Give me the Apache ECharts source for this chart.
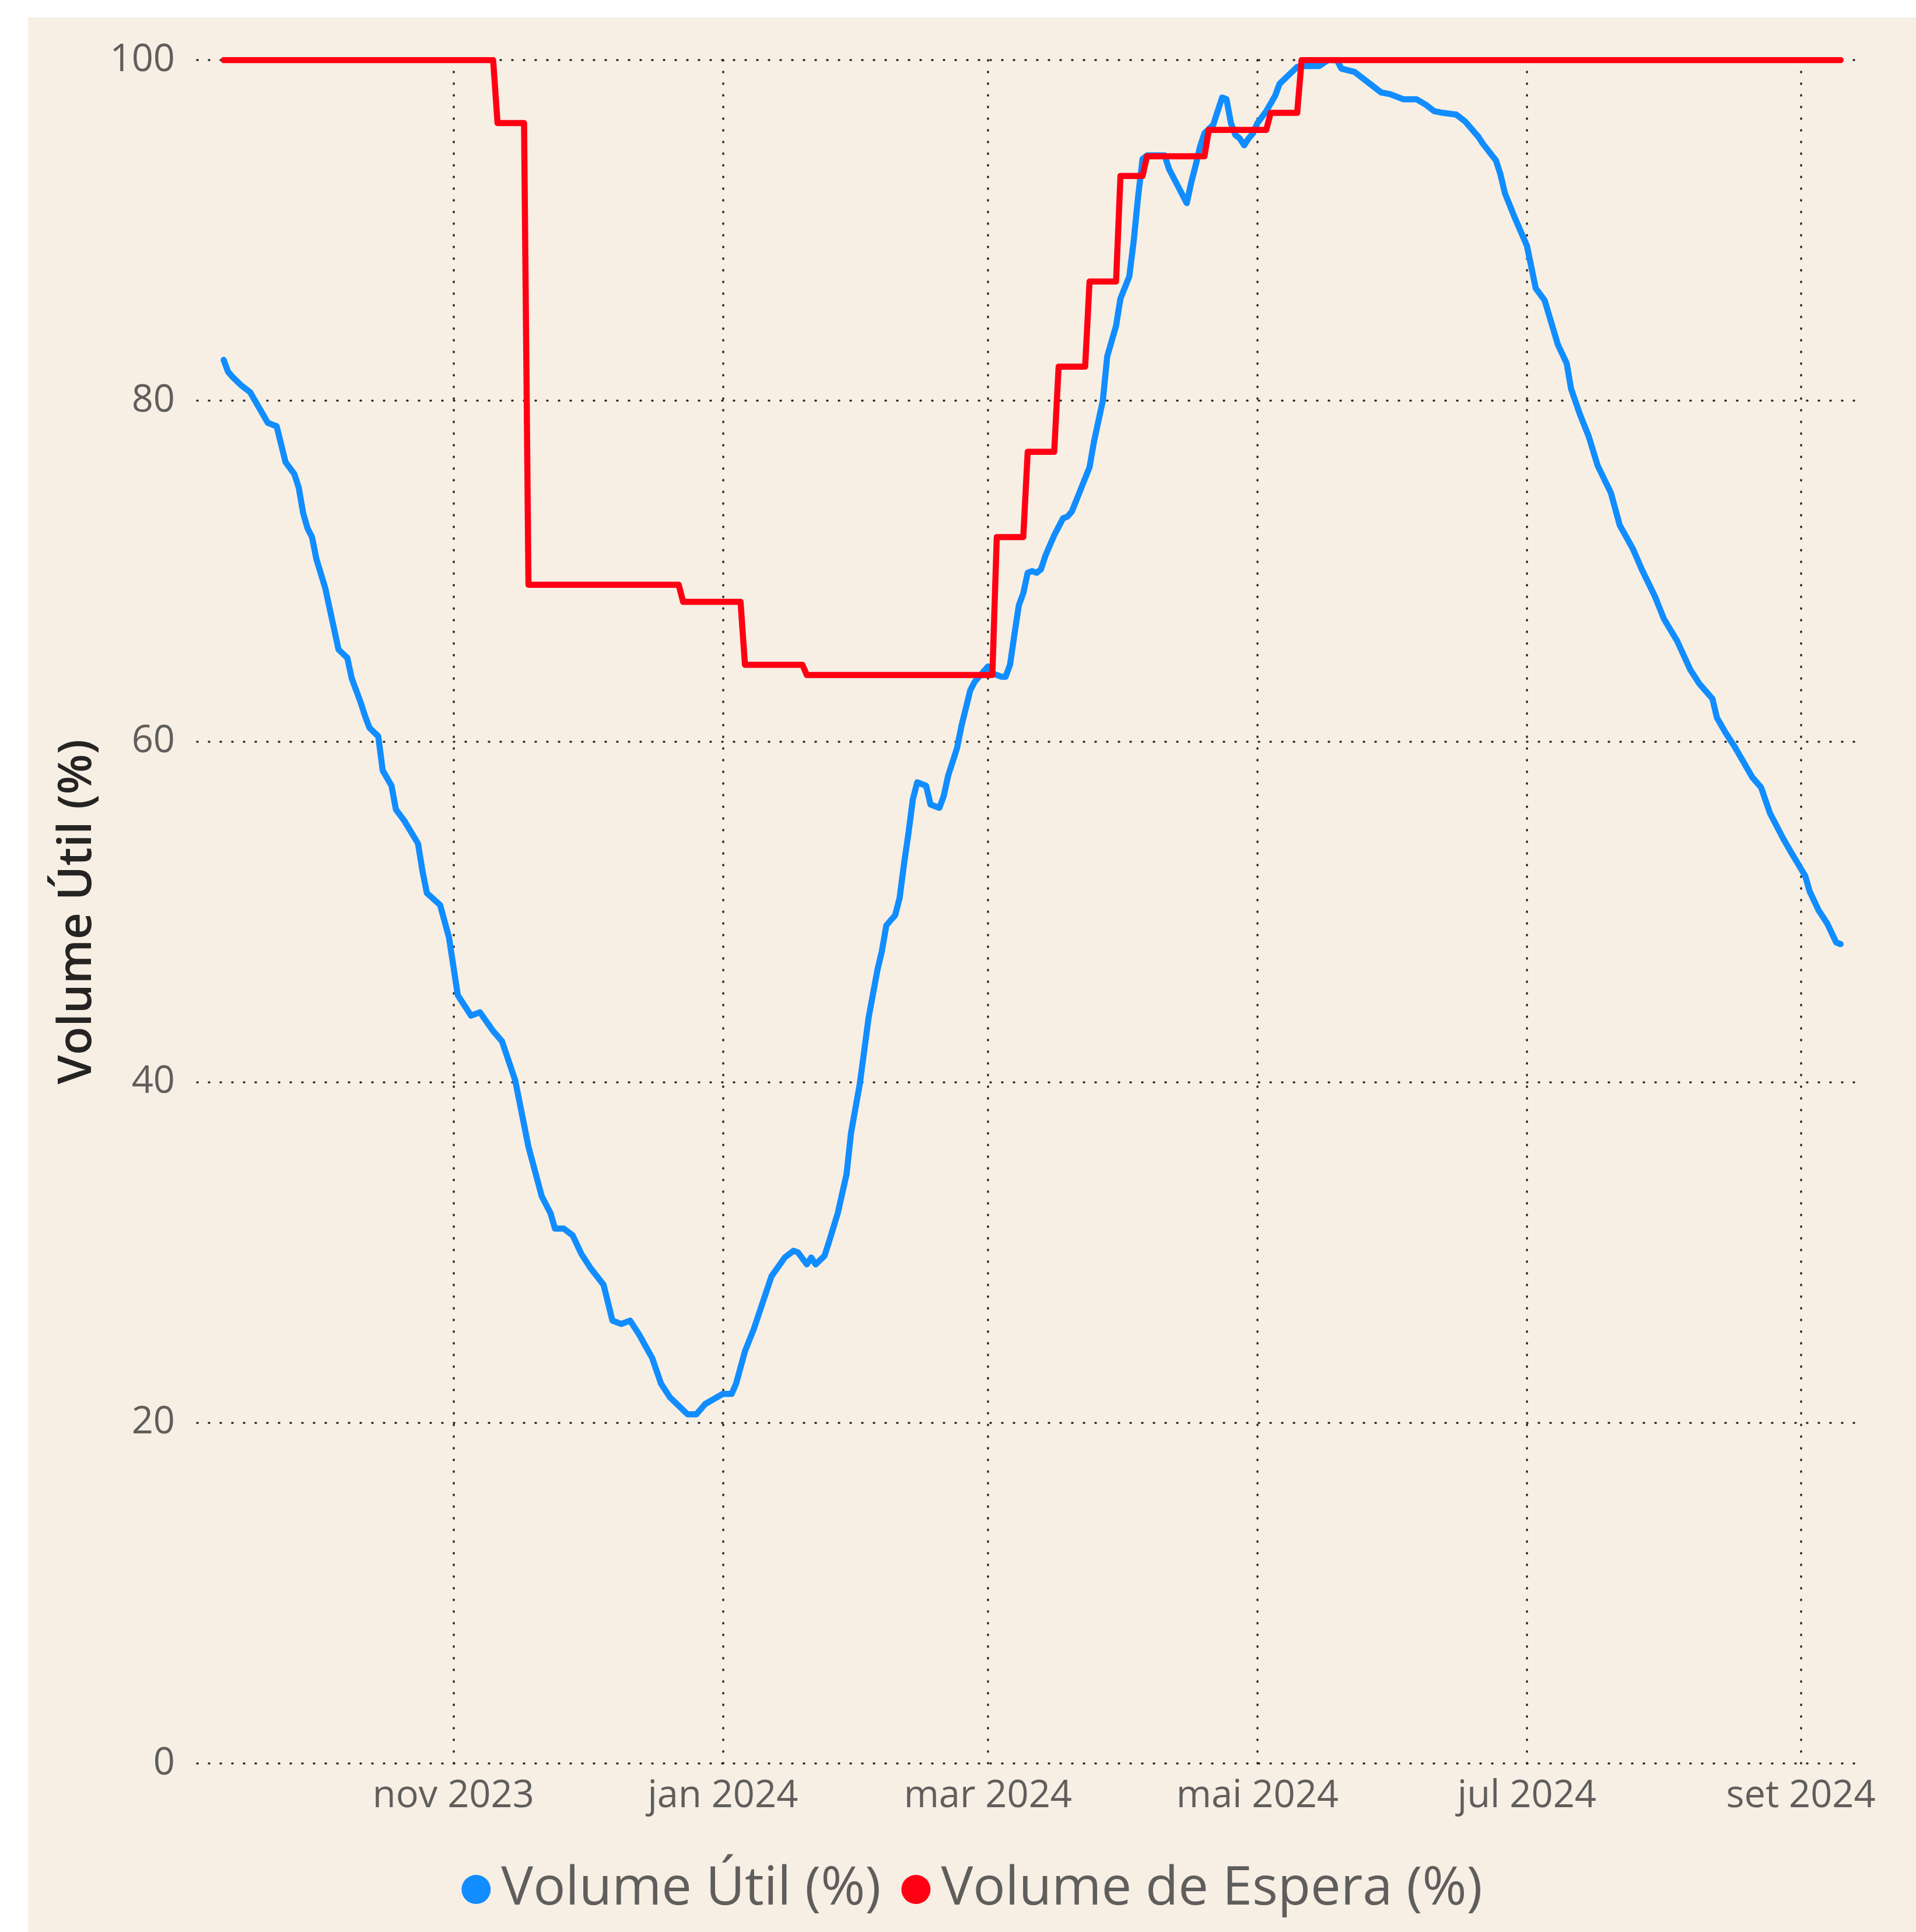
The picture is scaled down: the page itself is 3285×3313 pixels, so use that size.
<!DOCTYPE html>
<html>
<head>
<meta charset="utf-8">
<script src="https://cdn.jsdelivr.net/npm/echarts@6/dist/echarts.min.js"></script>
<style>
  html, body { margin: 0; padding: 0; background: #ffffff; }
  #chart { position: absolute; left: 48px; top: 30px; width: 3237px; height: 3283px; }
</style>
</head>
<body>
<div id="chart"></div>
<script>
// Volume Útil (%) - leitura diária aproximada
const utilDates = [
  '2023-09-10','2023-09-11','2023-09-12','2023-09-14','2023-09-16','2023-09-20','2023-09-22','2023-09-24',
  '2023-09-26','2023-09-27','2023-09-28','2023-09-29','2023-09-30','2023-10-01','2023-10-03','2023-10-05',
  '2023-10-06','2023-10-08','2023-10-09','2023-10-11','2023-10-12','2023-10-13','2023-10-15','2023-10-16',
  '2023-10-18','2023-10-19','2023-10-21','2023-10-24','2023-10-25','2023-10-26','2023-10-29','2023-10-31',
  '2023-11-02','2023-11-05','2023-11-07','2023-11-10','2023-11-12','2023-11-15','2023-11-18','2023-11-21',
  '2023-11-23','2023-11-24','2023-11-26','2023-11-28','2023-11-30','2023-12-02','2023-12-05','2023-12-07',
  '2023-12-09','2023-12-11','2023-12-13','2023-12-16','2023-12-18','2023-12-20','2023-12-24','2023-12-26',
  '2023-12-28','2024-01-01','2024-01-03','2024-01-04','2024-01-06','2024-01-08','2024-01-12','2024-01-15',
  '2024-01-17','2024-01-18','2024-01-20','2024-01-21','2024-01-22','2024-01-24','2024-01-25','2024-01-27',
  '2024-01-29','2024-01-30','2024-02-01','2024-02-03','2024-02-05','2024-02-06','2024-02-07','2024-02-09',
  '2024-02-10','2024-02-11','2024-02-12','2024-02-13','2024-02-14','2024-02-16','2024-02-17','2024-02-19',
  '2024-02-20','2024-02-21','2024-02-23','2024-02-24','2024-02-26','2024-02-27','2024-03-01','2024-03-02',
  '2024-03-04','2024-03-05','2024-03-06','2024-03-07','2024-03-08','2024-03-09','2024-03-10','2024-03-11',
  '2024-03-12','2024-03-13','2024-03-14','2024-03-16','2024-03-18','2024-03-19','2024-03-20','2024-03-22',
  '2024-03-24','2024-03-25','2024-03-27','2024-03-28','2024-03-30','2024-03-31','2024-04-02','2024-04-03',
  '2024-04-04','2024-04-05','2024-04-06','2024-04-10','2024-04-11','2024-04-13','2024-04-15','2024-04-16',
  '2024-04-17','2024-04-18','2024-04-19','2024-04-21','2024-04-22','2024-04-23','2024-04-24','2024-04-25',
  '2024-04-26','2024-04-27','2024-04-28','2024-04-29','2024-04-30','2024-05-01','2024-05-03','2024-05-05',
  '2024-05-06','2024-05-08','2024-05-10','2024-05-11','2024-05-15','2024-05-17','2024-05-19','2024-05-20',
  '2024-05-23','2024-05-26','2024-05-29','2024-05-31','2024-06-03','2024-06-06','2024-06-08','2024-06-10',
  '2024-06-12','2024-06-15','2024-06-17','2024-06-20','2024-06-21','2024-06-24','2024-06-25','2024-06-26',
  '2024-06-28','2024-07-01','2024-07-03','2024-07-05','2024-07-08','2024-07-10','2024-07-11','2024-07-13',
  '2024-07-15','2024-07-17','2024-07-20','2024-07-22','2024-07-25','2024-07-27','2024-07-30','2024-08-01',
  '2024-08-04','2024-08-07','2024-08-09','2024-08-12','2024-08-13','2024-08-15','2024-08-17','2024-08-19',
  '2024-08-21','2024-08-23','2024-08-25','2024-08-28','2024-08-30','2024-09-02','2024-09-03','2024-09-05',
  '2024-09-07','2024-09-09','2024-09-10'
];
const utilValues = [
  82.4, 81.7, 81.4, 80.9, 80.5, 78.7, 78.5, 76.4,
  75.7, 74.9, 73.4, 72.5, 72.0, 70.7, 69.0, 66.6,
  65.4, 64.9, 63.7, 62.3, 61.5, 60.8, 60.3, 58.3,
  57.4, 56.0, 55.3, 54.0, 52.4, 51.1, 50.4, 48.5,
  45.1, 43.9, 44.1, 43.0, 42.4, 40.1, 36.2, 33.3,
  32.3, 31.4, 31.4, 31.0, 29.9, 29.1, 28.1, 26.0,
  25.8, 26.0, 25.2, 23.8, 22.3, 21.5, 20.5, 20.5,
  21.1, 21.7, 21.7, 22.3, 24.2, 25.5, 28.6, 29.7,
  30.1, 30.0, 29.3, 29.7, 29.3, 29.8, 30.6, 32.3,
  34.6, 37.0, 39.9, 43.8, 46.6, 47.7, 49.2, 49.8,
  50.8, 52.8, 54.6, 56.6, 57.6, 57.4, 56.3, 56.1,
  56.8, 58.0, 59.6, 60.9, 63.0, 63.5, 64.4, 64.0,
  63.8, 63.8, 64.5, 66.3, 68.0, 68.7, 69.9, 70.0,
  69.9, 70.1, 70.9, 72.1, 73.1, 73.2, 73.5, 74.8,
  76.1, 77.6, 80.0, 82.6, 84.4, 86.0, 87.3, 89.4,
  92.0, 94.2, 94.4, 94.4, 93.6, 92.6, 91.6, 92.8,
  93.8, 94.9, 95.7, 96.2, 97.0, 97.8, 97.7, 96.3,
  95.6, 95.4, 95.0, 95.4, 95.7, 96.3, 97.0, 97.9,
  98.6, 99.1, 99.6, 99.65, 99.65, 100, 100, 99.5,
  99.3, 98.7, 98.1, 98.0, 97.7, 97.7, 97.4, 97.0,
  96.9, 96.8, 96.4, 95.5, 95.1, 94.1, 93.3, 92.2,
  90.9, 89.1, 86.6, 85.9, 83.3, 82.2, 80.7, 79.2,
  77.9, 76.2, 74.6, 72.7, 71.3, 70.1, 68.5, 67.2,
  65.9, 64.2, 63.4, 62.5, 61.4, 60.5, 59.7, 58.8,
  57.9, 57.3, 55.8, 54.3, 53.4, 52.1, 51.2, 50.1,
  49.3, 48.2, 48.1
];

// Volume de Espera (%) - degraus
const esperaDates = [
  '2023-09-10','2023-11-10','2023-11-11','2023-11-17','2023-11-18','2023-12-22','2023-12-23','2024-01-05',
  '2024-01-06','2024-01-19','2024-01-20','2024-03-02','2024-03-03','2024-03-09','2024-03-10','2024-03-16',
  '2024-03-17','2024-03-23','2024-03-24','2024-03-30','2024-03-31','2024-04-05','2024-04-06','2024-04-19',
  '2024-04-20','2024-05-03','2024-05-04','2024-05-10','2024-05-11','2024-09-10'
];
const esperaValues = [
  100, 100, 96.3, 96.3, 69.2, 69.2, 68.2, 68.2,
  64.5, 64.5, 63.9, 63.9, 72.0, 72.0, 77.0, 77.0,
  82.0, 82.0, 87.0, 87.0, 93.2, 93.2, 94.35, 94.35,
  95.9, 95.9, 96.9, 96.9, 100, 100
];

const xTickDates = ['2023-11-01', '2024-01-01', '2024-03-01', '2024-05-01', '2024-07-01', '2024-09-01'];
const xTickLabels = ['nov 2023', 'jan 2024', 'mar 2024', 'mai 2024', 'jul 2024', 'set 2024'];
const seriesNames = ['Volume Útil (%)', 'Volume de Espera (%)'];

const FONT = "'Segoe UI', 'Open Sans', sans-serif";
const dotted = { color: '#222222', width: 3.5, type: [1, 19], cap: 'round' };

const toTime = d => +echarts.time.parse(d);
const tickTimes = xTickDates.map(toTime);

const chart = echarts.init(document.getElementById('chart'));

chart.setOption({
  animation: false,
  backgroundColor: '#F7EFE4',
  grid: { left: 290, right: 99, top: 73, bottom: 289, containLabel: false },
  legend: {
    data: seriesNames,
    top: 3159,
    left: 'center',
    icon: 'circle',
    itemWidth: 76,
    itemHeight: 50,
    itemGap: 35,
    textStyle: { fontSize: 92, color: '#605E5C', fontFamily: FONT }
  },
  xAxis: {
    type: 'value',
    min: toTime('2023-09-04'),
    max: toTime('2024-09-14'),
    axisLine: { show: false },
    axisTick: { show: false, customValues: tickTimes },
    axisLabel: {
      customValues: tickTimes,
      margin: 24,
      fontSize: 65,
      color: '#605E5C',
      fontFamily: FONT,
      formatter: value => {
        const i = tickTimes.findIndex(t => Math.abs(t - value) < 86400000);
        return i >= 0 ? xTickLabels[i] : '';
      }
    },
    splitLine: { show: true, lineStyle: dotted }
  },
  yAxis: {
    type: 'value',
    min: 0,
    max: 100,
    interval: 20,
    name: 'Volume Útil (%)',
    nameLocation: 'middle',
    nameGap: 165,
    nameTextStyle: { fontSize: 80, fontWeight: 600, color: '#252423', fontFamily: FONT },
    axisLine: { show: false },
    axisTick: { show: false },
    axisLabel: { margin: 38, fontSize: 65, color: '#605E5C', fontFamily: FONT },
    splitLine: { show: true, lineStyle: dotted }
  },
  series: [
    {
      name: seriesNames[0],
      type: 'line',
      showSymbol: false,
      color: '#118DFF',
      lineStyle: { width: 10.5, color: '#118DFF', cap: 'round', join: 'round' },
      data: utilDates.map((d, i) => [toTime(d), utilValues[i]])
    },
    {
      name: seriesNames[1],
      type: 'line',
      showSymbol: false,
      color: '#FF0013',
      lineStyle: { width: 10.5, color: '#FF0013', cap: 'round', join: 'round' },
      data: esperaDates.map((d, i) => [toTime(d), esperaValues[i]])
    }
  ]
});
</script>
</body>
</html>
